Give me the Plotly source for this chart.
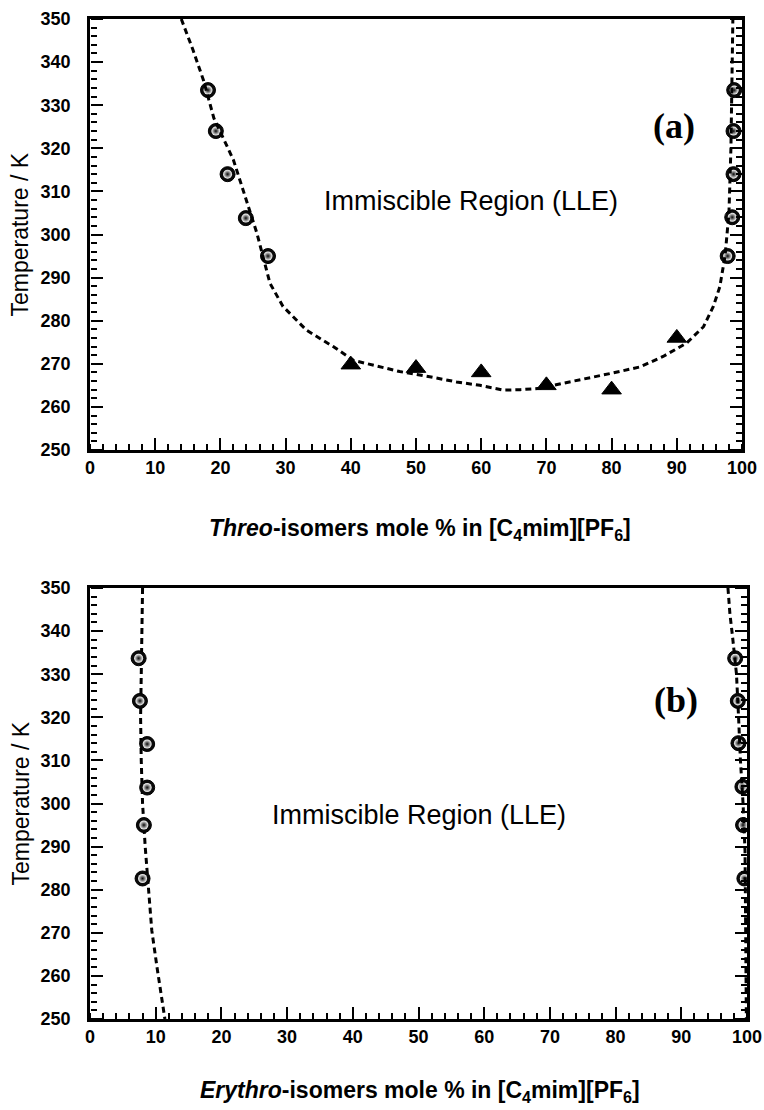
import plotly.graph_objects as go

# ---------------- data ----------------
# (a) Threo isomers
threo_left_x = [18.1, 19.3, 21.1, 23.9, 27.3]
threo_left_T = [333.5, 324.0, 314.0, 303.8, 295.0]
threo_right_x = [98.8, 98.7, 98.7, 98.5, 97.8]
threo_right_T = [333.5, 324.0, 314.0, 304.0, 295.0]
threo_tri_x = [40, 50, 60, 70, 80, 90]
threo_tri_T = [269.8, 269.0, 268.0, 265.0, 264.0, 276.0]
threo_fit_x = [14.0, 15.8, 17.4, 19.0, 22.0, 25.6, 27.6, 29.6, 33.2, 37.3, 40.4, 44.5,
               47.5, 52.1, 56.2, 59.8, 63.4, 66.0, 69.0, 72.6, 76.2, 80.3, 84.4, 87.9,
               91.5, 94.1, 95.6, 96.6, 97.4, 98.0, 98.3, 98.5, 98.6]
threo_fit_T = [350, 342.8, 335.8, 327.0, 317.3, 300.3, 288.7, 283.3, 277.8, 274.0, 270.8, 269.4,
               268.2, 267.0, 265.8, 265.0, 263.9, 264.0, 264.3, 265.5, 266.6, 267.9, 269.3, 271.7,
               274.8, 278.6, 283.3, 287.9, 295.0, 305.0, 320.0, 335.0, 350]

# (b) Erythro isomers
ery_left_x = [7.4, 7.6, 8.7, 8.7, 8.2, 8.0]
ery_left_T = [333.7, 323.8, 313.8, 303.7, 295.0, 282.6]
ery_right_x = [98.2, 98.6, 98.7, 99.3, 99.4, 99.6]
ery_right_T = [333.7, 323.8, 314.0, 303.9, 295.0, 282.6]
ery_fitL_x = [8.0, 7.8, 7.7, 7.8, 8.0, 8.4, 8.9, 9.4, 10.2, 11.2, 11.4]
ery_fitL_T = [350, 330, 320, 310, 300, 290, 280, 270.6, 262, 252, 250]
ery_fitR_x = [97.1, 97.4, 97.8, 98.4, 98.7, 99.0, 99.4, 99.7, 99.8, 99.9]
ery_fitR_T = [350, 344, 338.7, 330, 320.6, 310, 300, 289, 270, 250]

x_range = [0, 100]
T_range = [250, 350]

# ---------------- figure ----------------
W, H = 764, 1110
fig = go.Figure()

FONT = "Liberation Sans, Arial, sans-serif"
SERIF = "Liberation Serif, Times New Roman, serif"

dash_line = dict(color="black", width=3, dash="6px,4px")


def add_fit(x, y, xa, ya):
    fig.add_trace(go.Scatter(x=x, y=y, mode="lines", line=dash_line,
                             xaxis=xa, yaxis=ya, showlegend=False, hoverinfo="skip"))


def add_spheres(x, y, xa, ya_base, ya_hl):
    fig.add_trace(go.Scatter(x=x, y=y, mode="markers", xaxis=xa, yaxis=ya_base, showlegend=False,
                             marker=dict(symbol="circle", size=15, color="#0a0a0a",
                                         line=dict(color="black", width=1))))
    fig.add_trace(go.Scatter(x=x, y=y, mode="markers", xaxis=xa, yaxis=ya_hl, showlegend=False,
                             marker=dict(symbol="circle", size=9, color="#ffffff",
                                         gradient=dict(type="radial", color="#0a0a0a"),
                                         line=dict(width=0))))


# panel (a)
fig.add_trace(go.Scatter(x=threo_tri_x, y=threo_tri_T, mode="markers", xaxis="x", yaxis="y",
                         showlegend=False,
                         marker=dict(symbol="triangle-up", size=17, color="black",
                                     line=dict(color="black", width=1))))
add_fit(threo_fit_x, threo_fit_T, "x3", "y")
add_spheres(threo_left_x, threo_left_T, "x", "y3", "y5")
add_spheres(threo_right_x, threo_right_T, "x", "y7", "y9")

# panel (b)
add_fit(ery_fitL_x, ery_fitL_T, "x2", "y2")
add_fit(ery_fitR_x, ery_fitR_T, "x4", "y2")
add_spheres(ery_left_x, ery_left_T, "x2", "y4", "y6")
add_spheres(ery_right_x, ery_right_T, "x2", "y8", "y10")

tickfont = dict(family=FONT, size=18, color="black", weight="bold")


def xaxis(domain, anchor):
    return dict(domain=domain, anchor=anchor, range=x_range, dtick=10, tick0=0,
                ticks="inside", ticklen=12, tickwidth=2, tickcolor="black",
                showline=True, linecolor="black", linewidth=2.5, mirror=True,
                showgrid=False, zeroline=False, tickfont=tickfont, automargin=False)


def yaxis(domain, anchor):
    # invisible outside ticks only push the labels away from the frame
    return dict(domain=domain, anchor=anchor, range=T_range, dtick=10, tick0=250,
                ticks="outside", ticklen=13, tickwidth=1, tickcolor="rgba(0,0,0,0)",
                showline=True, linecolor="black", linewidth=2.5, mirror=True,
                showgrid=False, zeroline=False, tickfont=tickfont, automargin=False)


def minor_x(over, pos):
    # top-sided axis placed on the bottom frame: outside ticks point up into the plot
    return dict(overlaying=over, anchor="free", position=pos, side="top",
                range=x_range, dtick=2, tick0=0,
                ticks="outside", ticklen=6, tickwidth=1.5, tickcolor="black",
                showline=False, showgrid=False, zeroline=False, showticklabels=False,
                automargin=False)


def frame_y(over, pos, side, dtick, ticklen, width):
    return dict(overlaying=over, anchor="free", position=pos, side=side,
                range=T_range, dtick=dtick, tick0=250,
                ticks="outside", ticklen=ticklen, tickwidth=width, tickcolor="black",
                showline=False, showgrid=False, zeroline=False, showticklabels=False,
                automargin=False)


top_x = [90 / W, 742 / W]
bot_x = [90 / W, 747 / W]
top_y = [(H - 450) / H, (H - 19) / H]
bot_y = [(H - 1019) / H, (H - 588) / H]

fig.update_layout(
    width=W, height=H,
    margin=dict(l=0, r=0, t=0, b=0),
    paper_bgcolor="white", plot_bgcolor="white",
    xaxis=xaxis(top_x, "y"),
    yaxis=yaxis(top_y, "x"),
    xaxis2=xaxis(bot_x, "y2"),
    yaxis2=yaxis(bot_y, "x2"),
    xaxis3=minor_x("x", top_y[0]),
    xaxis4=minor_x("x2", bot_y[0]),
    # left frame (ticks pointing right)
    yaxis3=frame_y("y", top_x[0], "right", 10, 12, 2),
    yaxis5=frame_y("y", top_x[0], "right", 2, 6, 1.5),
    yaxis4=frame_y("y2", bot_x[0], "right", 10, 12, 2),
    yaxis6=frame_y("y2", bot_x[0], "right", 2, 6, 1.5),
    # right frame (ticks pointing left)
    yaxis7=frame_y("y", top_x[1], "left", 10, 12, 2),
    yaxis9=frame_y("y", top_x[1], "left", 2, 6, 1.5),
    yaxis8=frame_y("y2", bot_x[1], "left", 10, 12, 2),
    yaxis10=frame_y("y2", bot_x[1], "left", 2, 6, 1.5),
)

ann = []
# panel labels & region text
ann.append(dict(text="<b>(a)</b>", x=89.6, y=325.2, xref="x", yref="y", showarrow=False,
                font=dict(family=SERIF, size=36, color="black")))
ann.append(dict(text="<b>(b)</b>", x=89.2, y=324.0, xref="x2", yref="y2", showarrow=False,
                font=dict(family=SERIF, size=36, color="black")))
ann.append(dict(text="Immiscible Region (LLE)", x=58.4, y=307.8, xref="x", yref="y", showarrow=False,
                font=dict(family=FONT, size=27, color="black")))
ann.append(dict(text="Immiscible Region (LLE)", x=50.0, y=297.3, xref="x2", yref="y2", showarrow=False,
                font=dict(family=FONT, size=27, color="black")))
# y titles
for yc in [(H - 234.5) / H, (H - 803.5) / H]:
    ann.append(dict(text="Temperature / K", x=20 / W, y=yc, xref="paper", yref="paper",
                    showarrow=False, textangle=-90, xanchor="center", yanchor="middle",
                    font=dict(family=FONT, size=23, color="black")))
# x titles
ann.append(dict(text="<b><i>Threo</i>-isomers mole % in [C<sub>4</sub>mim][PF<sub>6</sub>]</b>",
                x=420 / W, y=(H - 529) / H, xref="paper", yref="paper", showarrow=False,
                xanchor="center", yanchor="middle", font=dict(family=FONT, size=23, color="black")))
ann.append(dict(text="<b><i>Erythro</i>-isomers mole % in [C<sub>4</sub>mim][PF<sub>6</sub>]</b>",
                x=420 / W, y=(H - 1091) / H, xref="paper", yref="paper", showarrow=False,
                xanchor="center", yanchor="middle", font=dict(family=FONT, size=23, color="black")))
fig.update_layout(annotations=ann)

fig.write_html("out.html", config={"displayModeBar": False})
